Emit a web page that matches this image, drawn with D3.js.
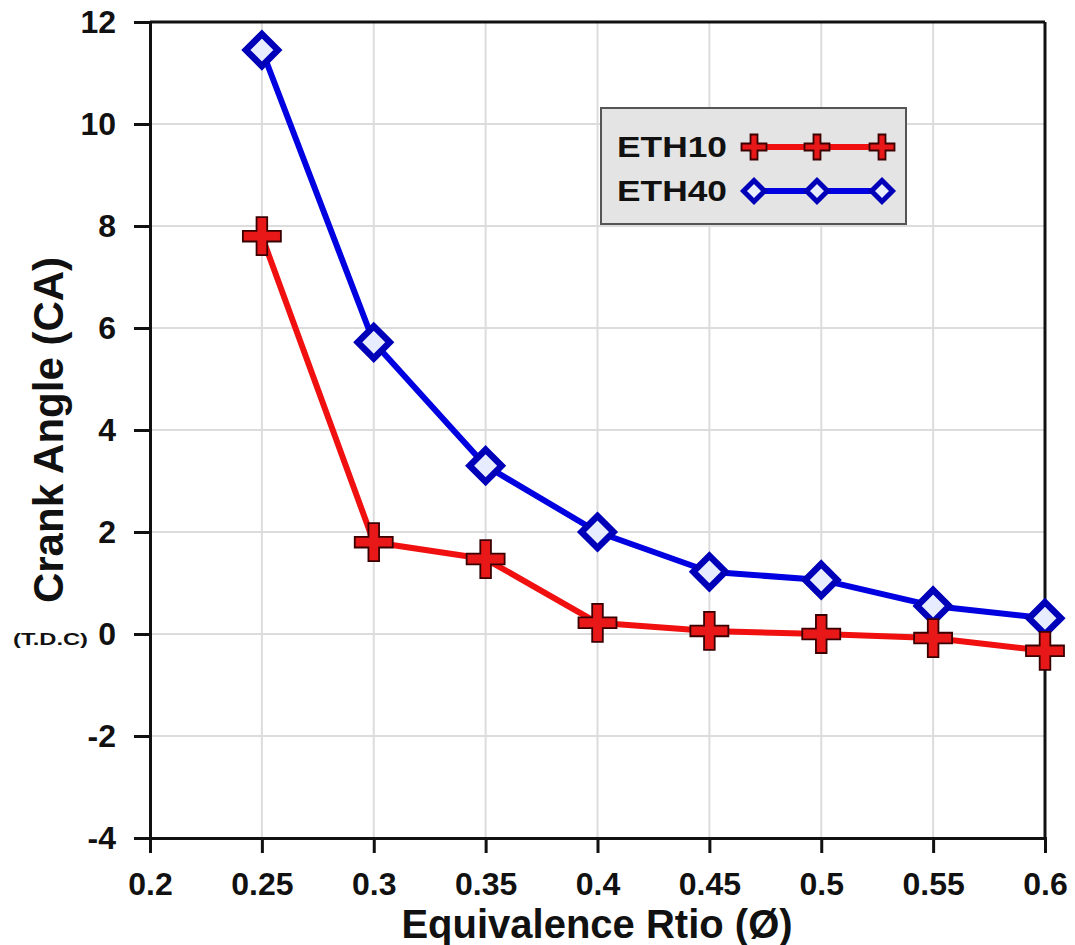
<!DOCTYPE html>
<html><head><meta charset="utf-8">
<script src="https://cdn.jsdelivr.net/npm/d3@7"></script>
<style>body{margin:0;background:#fff}svg{display:block}text{font-family:"Liberation Sans",Arial,sans-serif;font-weight:bold}</style>
</head><body>
<svg id="c" width="1075" height="945"></svg>
<script>
const xValues = [0.25, 0.3, 0.35, 0.4, 0.45, 0.5, 0.55, 0.6];
const eth10 = [7.8, 1.8, 1.47, 0.22, 0.06, 0.0, -0.08, -0.33];
const eth40 = [11.45, 5.72, 3.3, 2.0, 1.22, 1.06, 0.55, 0.31];
const xTicks = [0.2, 0.25, 0.3, 0.35, 0.4, 0.45, 0.5, 0.55, 0.6];
const yTicks = [-4, -2, 0, 2, 4, 6, 8, 10, 12];
const seriesNames = ["ETH10", "ETH40"];

const svg = d3.select("#c");
const L = 150, R = 1045, T = 22, B = 838;
const x = d3.scaleLinear().domain([0.2, 0.6]).range([L, R]);
const y = d3.scaleLinear().domain([-4, 12]).range([B, T]);

// grid
svg.append("g").selectAll("line").data(xTicks).join("line")
  .attr("x1", d => x(d)).attr("x2", d => x(d)).attr("y1", T).attr("y2", B)
  .attr("stroke", "#dcdcdc").attr("stroke-width", 2);
svg.append("g").selectAll("line").data(yTicks).join("line")
  .attr("y1", d => y(d)).attr("y2", d => y(d)).attr("x1", L).attr("x2", R)
  .attr("stroke", "#dcdcdc").attr("stroke-width", 2);

// frame top/right
svg.append("line").attr("x1", L).attr("x2", R).attr("y1", T).attr("y2", T).attr("stroke", "#111").attr("stroke-width", 3);
svg.append("line").attr("x1", R).attr("x2", R).attr("y1", T).attr("y2", B).attr("stroke", "#111").attr("stroke-width", 3);

// axes
const xAxis = svg.append("g").attr("transform", `translate(0,${B})`)
  .call(d3.axisBottom(x).tickValues(xTicks).tickFormat(d => String(d)).tickSizeOuter(0).tickSize(15).tickPadding(19));
const yAxis = svg.append("g").attr("transform", `translate(${L},0)`)
  .call(d3.axisLeft(y).tickValues(yTicks).tickFormat(d => String(d)).tickSizeOuter(0).tickSize(16).tickPadding(18));
[xAxis, yAxis].forEach(a => {
  a.select(".domain").attr("stroke", "#111").attr("stroke-width", 3);
  a.selectAll(".tick line").attr("stroke", "#111").attr("stroke-width", 3);
  a.selectAll(".tick text").attr("fill", "#111").attr("font-size", 32)
   .style("font-family", "'Liberation Sans',Arial,sans-serif").style("font-weight", "bold");
});

// line generator
const line = d3.line().x((d, i) => x(xValues[i])).y(d => y(d));
function crossPath(s, t) {
  return `M${-t},${-s}H${t}V${-t}H${s}V${t}H${t}V${s}H${-t}V${t}H${-s}V${-t}H${-t}Z`;
}
function drawCross(g, cx, cy, s) {
  g.append("path").attr("d", crossPath(s, s * 0.28)).attr("transform", `translate(${cx},${cy})`)
   .attr("fill", "#e81818").attr("stroke", "#3a0000").attr("stroke-width", 1.8);
}
function drawDiamond(g, cx, cy, s, w) {
  g.append("path").attr("d", `M0,${-s}L${s},0L0,${s}L${-s},0Z`).attr("transform", `translate(${cx},${cy})`)
   .attr("fill", "#e8ecff").attr("stroke", "#0000b8").attr("stroke-width", w);
}

const gData = svg.append("g");
gData.append("path").datum(eth40).attr("d", line).attr("fill", "none").attr("stroke", "#0000e0").attr("stroke-width", 6).attr("stroke-linejoin", "round");
gData.append("path").datum(eth10).attr("d", line).attr("fill", "none").attr("stroke", "#f01010").attr("stroke-width", 6).attr("stroke-linejoin", "round");
eth40.forEach((v, i) => drawDiamond(gData, x(xValues[i]), y(v), 16, 6.5));
eth10.forEach((v, i) => drawCross(gData, x(xValues[i]), y(v), 19));

// legend
const lg = svg.append("g");
lg.append("rect").attr("x", 601).attr("y", 108).attr("width", 305).attr("height", 116)
  .attr("fill", "#e4e4e4").attr("stroke", "#555").attr("stroke-width", 2);
const legY = [147, 191];
const legBase = [157, 201];
seriesNames.forEach((n, i) => {
  lg.append("text").attr("x", 617).attr("y", legBase[i]).attr("font-size", 29).attr("fill", "#111")
    .attr("textLength", 110).attr("lengthAdjust", "spacingAndGlyphs").text(n);
  lg.append("line").attr("x1", 752).attr("x2", 884).attr("y1", legY[i]).attr("y2", legY[i])
    .attr("stroke", i === 0 ? "#f01010" : "#0000e0").attr("stroke-width", 6);
  [754, 817, 882].forEach(px => i === 0 ? drawCross(lg, px, legY[i], 12.5) : drawDiamond(lg, px, legY[i], 10.5, 5));
});

// axis titles
svg.append("text").attr("transform", `translate(63,430) rotate(-90)`).attr("text-anchor", "middle")
  .attr("font-size", 42).attr("fill", "#111").text("Crank Angle (CA)");
svg.append("text").attr("x", 13).attr("y", 645).attr("font-size", 17).attr("fill", "#111")
  .attr("textLength", 75).attr("lengthAdjust", "spacingAndGlyphs").text("(T.D.C)");
svg.append("text").attr("x", 597).attr("y", 938).attr("text-anchor", "middle")
  .attr("font-size", 40).attr("fill", "#111").text("Equivalence Rtio (Ø)");
</script>
</body></html>
